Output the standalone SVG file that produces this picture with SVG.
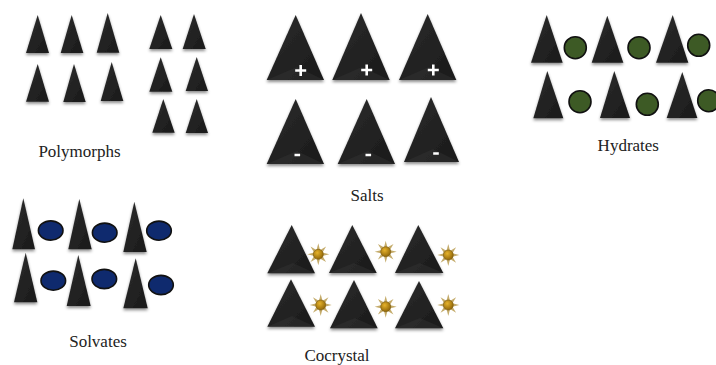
<svg xmlns="http://www.w3.org/2000/svg" xmlns:xlink="http://www.w3.org/1999/xlink" width="716" height="365" viewBox="0 0 716 365">
<style>
.tri{fill:url(#triGrad);filter:url(#shadow);}
.facet{fill:#3a3a3a;opacity:0.35;}
.lbl{font-family:"Liberation Serif","Times New Roman",serif;font-size:17px;fill:#222;text-anchor:middle;}
.hyd{fill:#3d5a25;stroke:#111;stroke-width:1.6;}
.sol{fill:#0f2a6e;stroke:#111;stroke-width:1.6;}
.sign{stroke:#fff;stroke-width:2.6;stroke-linecap:butt;fill:none;}
.ray{fill:#c4ab6a;}
</style>
<defs>
<linearGradient id="triGrad" x1="0" y1="0" x2="1" y2="1">
<stop offset="0" stop-color="#2c2c2c"/>
<stop offset="1" stop-color="#1a1a1a"/>
</linearGradient>
<radialGradient id="sunCore" cx="0.4" cy="0.35" r="0.7">
<stop offset="0" stop-color="#e6b22a"/>
<stop offset="1" stop-color="#8a6106"/>
</radialGradient>
<filter id="shadow" x="-20%" y="-20%" width="140%" height="150%">
<feDropShadow dx="0" dy="2" stdDeviation="1.5" flood-color="#000" flood-opacity="0.45"/>
</filter>
<g id="sun">
<g class="ray">
<polygon points="-1.8,-4 0,-11 1.8,-4"/>
<polygon points="-1.8,-4 0,-11 1.8,-4" transform="rotate(45)"/>
<polygon points="-1.8,-4 0,-11 1.8,-4" transform="rotate(90)"/>
<polygon points="-1.8,-4 0,-11 1.8,-4" transform="rotate(135)"/>
<polygon points="-1.8,-4 0,-11 1.8,-4" transform="rotate(180)"/>
<polygon points="-1.8,-4 0,-11 1.8,-4" transform="rotate(225)"/>
<polygon points="-1.8,-4 0,-11 1.8,-4" transform="rotate(270)"/>
<polygon points="-1.8,-4 0,-11 1.8,-4" transform="rotate(315)"/>
</g>
<circle r="5" fill="url(#sunCore)" stroke="#7a5a10" stroke-width="0.6"/>
</g>
</defs>
<rect width="716" height="365" fill="#fff"/>

<g id="polymorphs">
<polygon class="tri" points="37.7,15 49,53 26,53"/>
<polygon class="tri" points="71.7,15 83.3,53 60.7,53"/>
<polygon class="tri" points="107.7,13 119.3,52.7 96.7,52.7"/>
<polygon class="tri" points="37.7,64 49,101.7 26,101.7"/>
<polygon class="tri" points="74,64 85.7,102 63.3,102"/>
<polygon class="tri" points="111.7,62 123.3,101 100.7,101"/>
<polygon class="tri" points="160.7,15 172.3,49 149.3,49"/>
<polygon class="tri" points="194,14 205.7,49 182.7,49"/>
<polygon class="tri" points="160.7,57.3 172.3,91.7 149.3,91.7"/>
<polygon class="tri" points="196.7,57 208,91 185.7,91"/>
<polygon class="tri" points="163.3,99 174.7,132.7 152.3,132.7"/>
<polygon class="tri" points="196.7,99 208,133 185.7,133"/>
<text class="lbl" x="79.5" y="157">Polymorphs</text>
</g>

<g id="salts">
<polygon class="tri" points="295.7,15 324,80 266.7,80"/>
<polygon class="facet" points="266.7,80 324,80 297,67"/>
<polygon class="tri" points="361,13 389.7,80 332.3,80"/>
<polygon class="facet" points="332.3,80 389.7,80 362,67"/>
<polygon class="tri" points="427.7,14 456.3,80 399,80"/>
<polygon class="facet" points="399,80 456.3,80 429,67"/>
<polygon class="tri" points="295.7,99 324,164 266.7,164"/>
<polygon class="facet" points="266.7,164 324,164 297,151"/>
<polygon class="tri" points="366.7,99 395,164 337.7,164"/>
<polygon class="facet" points="337.7,164 395,164 368,151"/>
<polygon class="tri" points="431,97 459,162 404,162"/>
<polygon class="facet" points="404,162 459,162 433,149"/>
<path class="sign" d="M295.2,70.5h11M300.7,65v11M361.2,70h11M366.7,64.5v11M427.8,70h11M433.3,64.5v11"/>
<path class="sign" d="M294.5,155h5.6M365.5,155h5.6M433.2,153.5h5.6"/>
<text class="lbl" x="367" y="201">Salts</text>
</g>

<g id="hydrates">
<polygon class="tri" points="546.7,15 562.7,62.7 531,62.7"/>
<circle class="hyd" cx="575.3" cy="47.7" r="11"/>
<polygon class="tri" points="607.3,15.7 623.3,62.7 591.7,62.7"/>
<circle class="hyd" cx="639" cy="47.7" r="11"/>
<polygon class="tri" points="672.7,15 688.3,62.7 656,62.7"/>
<circle class="hyd" cx="698.7" cy="45.3" r="11"/>
<polygon class="tri" points="547.3,71 563.3,118.3 533.3,118.3"/>
<circle class="hyd" cx="580" cy="101.7" r="11"/>
<polygon class="tri" points="614.3,71 630,118 600,118"/>
<circle class="hyd" cx="647.3" cy="104.3" r="11"/>
<polygon class="tri" points="682.3,72 697.3,118 666.7,118"/>
<circle class="hyd" cx="708.7" cy="100.7" r="11"/>
<text class="lbl" x="628.3" y="151">Hydrates</text>
</g>

<g id="solvates">
<polygon class="tri" points="23.3,198.3 35,249.3 12.3,249.3"/>
<ellipse class="sol" cx="50.7" cy="230.5" rx="12.3" ry="9.6"/>
<polygon class="tri" points="79.3,199 91.7,249.3 68.3,249.3"/>
<ellipse class="sol" cx="104.7" cy="232.7" rx="12.3" ry="9.6"/>
<polygon class="tri" points="134.3,201.7 146.7,252 123.3,252"/>
<ellipse class="sol" cx="159" cy="230.7" rx="12.3" ry="9.6"/>
<polygon class="tri" points="25.7,252.7 37.3,302.3 14,302.3"/>
<ellipse class="sol" cx="53.3" cy="280.7" rx="12.3" ry="9.6"/>
<polygon class="tri" points="78.3,255 90.7,306 66.7,306"/>
<ellipse class="sol" cx="104.3" cy="279" rx="12.3" ry="9.6"/>
<polygon class="tri" points="135.7,258.3 147.7,308.3 123.3,308.3"/>
<ellipse class="sol" cx="161" cy="285" rx="12.3" ry="9.6"/>
<text class="lbl" x="98" y="346.7">Solvates</text>
</g>

<g id="cocrystal">
<polygon class="tri" points="291.7,225 315,273.3 267.3,273.3"/>
<polygon class="facet" points="267.3,273.3 315,273.3 293,263"/>
<use xlink:href="#sun" href="#sun" x="318.3" y="254.3"/>
<polygon class="tri" points="352.3,225 376.7,273 329,273"/>
<polygon class="facet" points="329,273 376.7,273 354,263"/>
<use xlink:href="#sun" href="#sun" x="385.7" y="251.7"/>
<polygon class="tri" points="418.3,225 443.3,273 395,273"/>
<polygon class="facet" points="395,273 443.3,273 420,263"/>
<use xlink:href="#sun" href="#sun" x="448.3" y="255"/>
<polygon class="tri" points="291,279.3 315,326.7 267.3,326.7"/>
<polygon class="facet" points="267.3,326.7 315,326.7 292,316"/>
<use xlink:href="#sun" href="#sun" x="320.7" y="305"/>
<polygon class="tri" points="354,280 377.7,328.3 330,328.3"/>
<polygon class="facet" points="330,328.3 377.7,328.3 355,318"/>
<use xlink:href="#sun" href="#sun" x="385.7" y="306.7"/>
<polygon class="tri" points="419,281 443.3,328.3 395,328.3"/>
<polygon class="facet" points="395,328.3 443.3,328.3 420,318"/>
<use xlink:href="#sun" href="#sun" x="448.3" y="305"/>
<text class="lbl" x="337" y="361">Cocrystal</text>
</g>
</svg>
